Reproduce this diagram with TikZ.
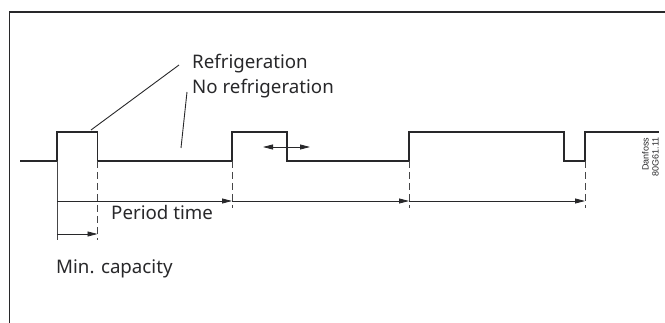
\documentclass[tikz,border=0pt]{standalone}
\usepackage{fontspec}
\setmainfont{Noto Sans}
\newfontfamily\tagfont{Liberation Sans}
\usepackage{tikz}
\usetikzlibrary{positioning, arrows.meta, calc}
\definecolor{ink}{RGB}{40, 40, 42}
\definecolor{guidegrey}{RGB}{70, 70, 72}

\begin{document}
\begin{tikzpicture}[x=1pt, y=-1pt,
      sig/.style={line width=1.5pt, color=ink, line join=miter},
      guide/.style={line width=0.8pt, color=guidegrey, dash pattern=on 7pt off 4pt},
      tick/.style={line width=0.8pt, color=guidegrey},
      lead/.style={line width=0.9pt, color=ink},
      arr/.style={-{Triangle[length=10pt, width=5pt]}, line width=0.8pt, color=ink},
      dblarr/.style={{Triangle[length=10pt, width=5pt]}-{Triangle[length=10pt, width=5pt]}, line width=0.8pt, color=ink},
      lbl/.style={font=\fontsize{18.7}{22}\selectfont, text=ink, inner sep=0pt, anchor=base west}]
    \useasboundingbox (0,0) rectangle (665,323);
    \draw[line width=1.4pt, color=ink] (9.5,323) |- (665,12);

    % switching points on the low level
    \coordinate (s0) at (57,161);
    \coordinate (s1) at (97.5,161);
    \coordinate (s2) at (232,161);
    \coordinate (s3) at (409,161);
    \coordinate (s4) at (585,161);

    % signal
    \draw[sig] (20,161) -- (s0) |- (97.5,132) -- (s1) -- (s2) |- (287,132)
      |- (s3) |- (564,132) |- (s4) |- (659,132);

    % guide lines
    \coordinate (g0) at (57,240);
    \coordinate (g1) at (97.5,240);
    \draw[tick] (s0) -- (g0);
    \draw[guide] (s1) -- (g1);
    \foreach \s in {2,3,4}
      \draw[guide] (s\s) -- ++(0,47) coordinate (g\s);

    % period arrows
    \coordinate (p0) at (57,201);
    \coordinate (p1) at (232,201);
    \coordinate (p2) at (409,201);
    \coordinate (p3) at (585,201);
    \draw[arr] (p0) -- (p1);
    \draw[arr] (p1) -- (p2);
    \draw[arr] (p2) -- (p3);

    % min. capacity arrow
    \coordinate (m0) at (57,234);
    \coordinate (m1) at (97.5,234);
    \draw[arr] (m0) -- (m1);

    % shifting edge
    \coordinate (e0) at (263,147);
    \coordinate (e1) at (310,147);
    \draw[dblarr] (e0) -- (e1);

    % labels
    \node[lbl] (refr) at (192,68.5) {Refrigeration};
    \node[lbl] (norefr) at (192,94) {No refrigeration};
    \node[lbl] (period) at (111,220) {Period time};
    \node[lbl] (mincap) at (56,274) {Min. capacity};
    \node[font=\tagfont\fontsize{9}{10}\selectfont, text=ink, rotate=90, align=right,
          inner sep=0pt] (tag) at (650.5,157) {Danfoss\\80G61.11};

    % leaders
    \coordinate (r0) at (179,65);
    \coordinate (r1) at (91,130);
    \coordinate (n0) at (187,92);
    \coordinate (n1) at (181,148);
    \draw[lead] (r0) -- (r1);
    \draw[lead] (n0) -- (n1);
  \end{tikzpicture}
\end{document}
